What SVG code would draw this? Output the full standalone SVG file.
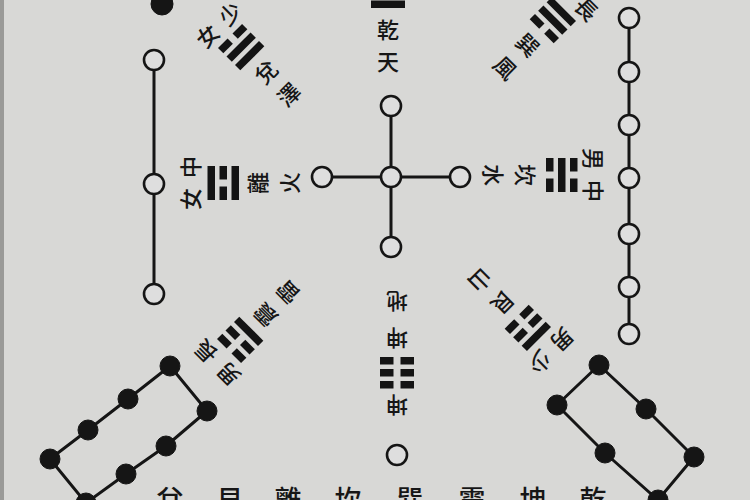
<svg xmlns="http://www.w3.org/2000/svg" width="750" height="500" viewBox="0 0 750 500">
  <defs>
    <style>
      .bg { fill: #d8d8d6; }
      .ln { stroke: #151515; stroke-width: 3; fill: none; stroke-linejoin: round; }
      .oc { fill: #dedede; stroke: #151515; stroke-width: 2.6; }
      .bd { fill: #151515; stroke: #151515; stroke-width: 1; }
      .bar { fill: #141414; }
      .t { font-family: "Noto Sans CJK TC", "Noto Sans CJK SC", sans-serif; font-size: 22px; font-weight: 500; fill: #161616; text-anchor: middle; dominant-baseline: central; }
      .b { font-family: "Noto Sans CJK TC", "Noto Sans CJK SC", sans-serif; font-size: 27px; font-weight: 500; fill: #161616; text-anchor: middle; }
    </style>
    <radialGradient id="vig" cx="50%" cy="50%" r="70%">
      <stop offset="0.6" stop-color="#e0e0de"/>
      <stop offset="1" stop-color="#cdcdcb"/>
    </radialGradient>
    <g id="S"><rect class="bar" x="-17" y="-3.5" width="34" height="7.5"/></g>
    <g id="B"><rect class="bar" x="-17" y="-3.5" width="13.5" height="7.5"/><rect class="bar" x="3.5" y="-3.5" width="13.5" height="7.5"/></g>
  </defs>

  <rect class="bg" x="0" y="0" width="750" height="500" fill="url(#vig)"/>
  <rect x="0" y="0" width="4" height="500" fill="#9a9a98"/>

  <g id="connectors">
    <line class="ln" x1="154" y1="60" x2="154" y2="294"/>
    <line class="ln" x1="629" y1="18" x2="629" y2="334"/>
    <line class="ln" x1="391" y1="106" x2="391" y2="247"/>
    <line class="ln" x1="322" y1="177" x2="460" y2="177"/>
    <polyline class="ln" points="86,503 50,459 88,430 128,399 170,366 207,411 166,446 126,474 86,503"/>
    <polyline class="ln" points="599,365 646,409 694,457 658,500 605,453 557,405 599,365"/>
  </g>

  <g id="dot-topleft"><circle class="bd" cx="162" cy="4" r="11"/></g>

  <g id="left-column">
    <circle class="oc" cx="154" cy="60" r="10"/>
    <circle class="oc" cx="154" cy="184" r="10"/>
    <circle class="oc" cx="154" cy="294" r="10"/>
  </g>

  <g id="right-column">
    <circle class="oc" cx="629" cy="18" r="10"/>
    <circle class="oc" cx="629" cy="72" r="10"/>
    <circle class="oc" cx="629" cy="125" r="10"/>
    <circle class="oc" cx="629" cy="178" r="10"/>
    <circle class="oc" cx="629" cy="234" r="10"/>
    <circle class="oc" cx="629" cy="287" r="10"/>
    <circle class="oc" cx="629" cy="334" r="10"/>
  </g>

  <g id="center-cross">
    <circle class="oc" cx="391" cy="106" r="10"/>
    <circle class="oc" cx="322" cy="177" r="10"/>
    <circle class="oc" cx="391" cy="177" r="10"/>
    <circle class="oc" cx="460" cy="177" r="10"/>
    <circle class="oc" cx="391" cy="247" r="10"/>
  </g>

  <g id="bottom-circle"><circle class="oc" cx="397" cy="455" r="10"/></g>

  <g id="lower-left-dots">
    <circle class="bd" cx="50" cy="459" r="10"/>
    <circle class="bd" cx="88" cy="430" r="10"/>
    <circle class="bd" cx="128" cy="399" r="10"/>
    <circle class="bd" cx="170" cy="366" r="10"/>
    <circle class="bd" cx="207" cy="411" r="10"/>
    <circle class="bd" cx="166" cy="446" r="10"/>
    <circle class="bd" cx="126" cy="474" r="10"/>
    <circle class="bd" cx="86" cy="503" r="10"/>
  </g>

  <g id="lower-right-dots">
    <circle class="bd" cx="599" cy="365" r="10"/>
    <circle class="bd" cx="557" cy="405" r="10"/>
    <circle class="bd" cx="646" cy="409" r="10"/>
    <circle class="bd" cx="605" cy="453" r="10"/>
    <circle class="bd" cx="694" cy="457" r="10"/>
    <circle class="bd" cx="658" cy="500" r="10"/>
  </g>

  <g id="qian" transform="translate(388,-8)">
    <use href="#S" y="-12"/><use href="#S" y="0"/><use href="#S" y="12"/>
    <text class="t" x="0" y="36">乾</text>
    <text class="t" x="0" y="68">天</text>
  </g>

  <g id="dui" transform="translate(241,47) rotate(-45)">
    <use href="#B" y="-12"/><use href="#S" y="0"/><use href="#S" y="12"/>
    <text class="t" x="-16" y="-33">女</text>
    <text class="t" x="16" y="-33">少</text>
    <text class="t" x="0" y="34">兌</text>
    <text class="t" x="0" y="66">澤</text>
  </g>

  <g id="xun" transform="translate(553,20) rotate(45)">
    <use href="#S" y="-12"/><use href="#S" y="0"/><use href="#B" y="12"/>
    <text class="t" x="16" y="-33">長</text>
    <text class="t" x="0" y="34">巽</text>
    <text class="t" x="0" y="66">風</text>
  </g>

  <g id="li" transform="translate(223,183) rotate(-90)">
    <use href="#S" y="-12"/><use href="#B" y="0"/><use href="#S" y="12"/>
    <text class="t" x="-16" y="-34">女</text>
    <text class="t" x="16" y="-34">中</text>
    <text class="t" x="0" y="33">離</text>
    <text class="t" x="0" y="65">火</text>
  </g>

  <g id="kan" transform="translate(562,175) rotate(90)">
    <use href="#B" y="-12"/><use href="#S" y="0"/><use href="#B" y="12"/>
    <text class="t" x="-16" y="-33">男</text>
    <text class="t" x="16" y="-33">中</text>
    <text class="t" x="0" y="35">坎</text>
    <text class="t" x="0" y="67">水</text>
  </g>

  <g id="zhen" transform="translate(240,340) rotate(-135)">
    <use href="#B" y="-12"/><use href="#B" y="0"/><use href="#S" y="12"/>
    <text class="t" x="-16" y="-34">男</text>
    <text class="t" x="16" y="-34">長</text>
    <text class="t" x="0" y="34">震</text>
    <text class="t" x="0" y="66">雷</text>
  </g>

  <g id="gen" transform="translate(528,328) rotate(135)">
    <use href="#S" y="-12"/><use href="#B" y="0"/><use href="#B" y="12"/>
    <text class="t" x="-16" y="-34">男</text>
    <text class="t" x="16" y="-34">少</text>
    <text class="t" x="0" y="34">艮</text>
    <text class="t" x="0" y="66">山</text>
  </g>

  <g id="kun" transform="translate(397,373) rotate(180)">
    <use href="#B" y="-12"/><use href="#B" y="0"/><use href="#B" y="12"/>
    <text class="t" x="0" y="-34">坤</text>
    <text class="t" x="0" y="33">坤</text>
    <text class="t" x="0" y="70">地</text>
  </g>

  <g id="bottom-row">
    <text class="b" x="170" y="510">兌</text>
    <text class="b" x="230" y="510">艮</text>
    <text class="b" x="288" y="510">離</text>
    <text class="b" x="348" y="510">坎</text>
    <text class="b" x="410" y="510">巽</text>
    <text class="b" x="472" y="510">震</text>
    <text class="b" x="533" y="510">坤</text>
    <text class="b" x="593" y="510">乾</text>
  </g>
</svg>
